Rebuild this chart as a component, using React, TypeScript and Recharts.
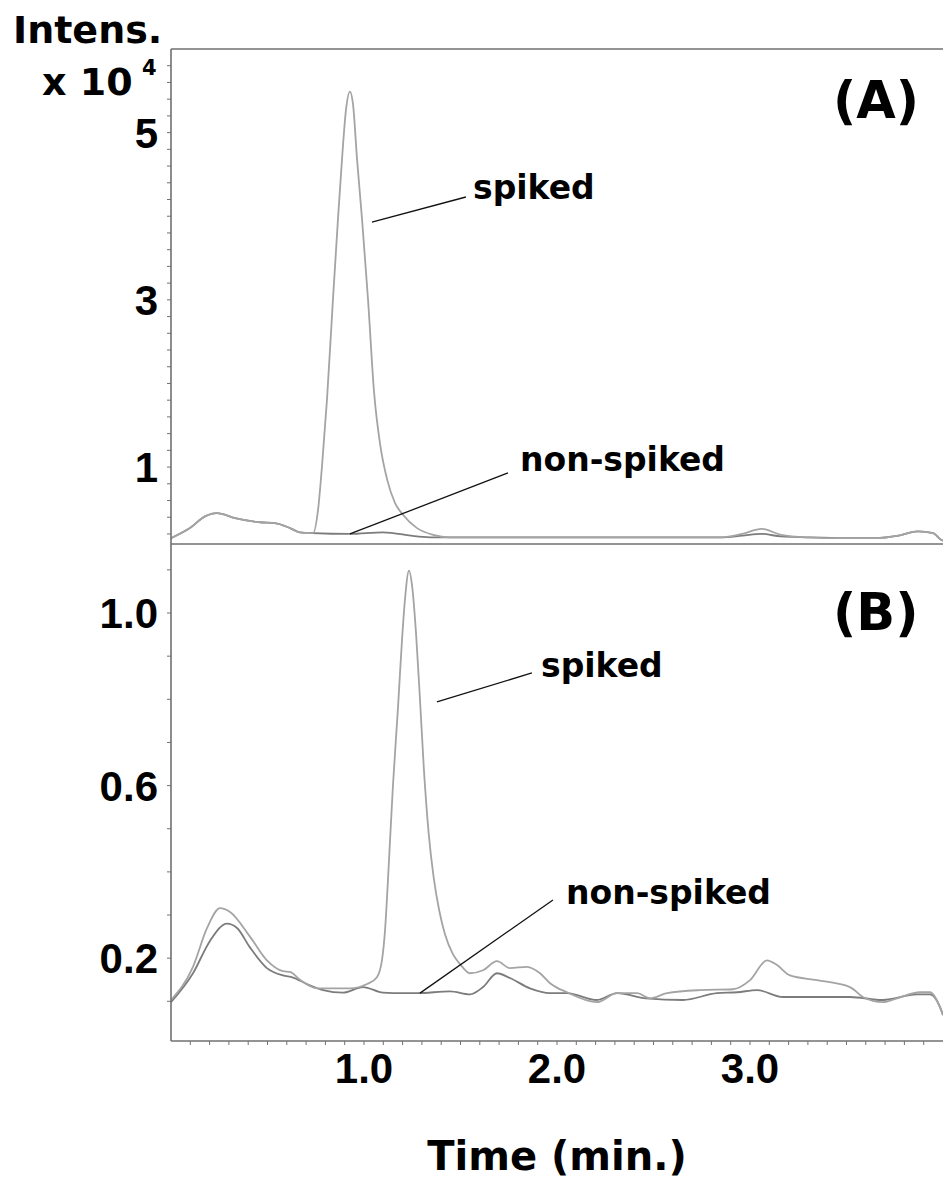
import React from 'react';
import { LineChart, Line, XAxis, YAxis, ReferenceLine } from 'recharts';

// axes
const TIME_DOMAIN: [number, number] = [0, 4];
const TIME_LABELS = [1, 2, 3];
const INTENS_A_DOMAIN: [number, number] = [0.08, 6.0];
const INTENS_A_LABELS = [1, 3, 5];
const INTENS_B_DOMAIN: [number, number] = [0.008, 1.16];
const INTENS_B_LABELS = [0.2, 0.6, 1.0];

// panel (A): [time (min), intensity x10^4]
const spikedA = [
  [0, 0.15], [0.098, 0.27], [0.176, 0.41], [0.238, 0.45], [0.332, 0.39], [0.461, 0.34],
  [0.539, 0.33], [0.617, 0.27], [0.668, 0.22], [0.736, 0.21], [0.762, 0.49], [0.782, 1.0],
  [0.808, 1.8], [0.839, 3.0], [0.865, 3.96], [0.886, 4.68], [0.907, 5.28], [0.927, 5.49],
  [0.943, 5.34], [0.964, 4.68], [0.99, 3.96], [1.021, 3.0], [1.052, 1.9], [1.085, 1.25],
  [1.12, 0.85], [1.161, 0.57], [1.202, 0.43], [1.275, 0.27], [1.358, 0.19], [1.446, 0.16],
  [1.8, 0.16], [2.2, 0.16], [2.6, 0.16], [2.85, 0.16], [2.96, 0.2], [3.06, 0.26], [3.16, 0.19],
  [3.29, 0.16], [3.5, 0.15], [3.65, 0.15], [3.77, 0.18], [3.87, 0.23], [3.95, 0.21],
  [3.99, 0.13], [4.0, 0.12],
];
const nonSpikedA = [
  [0, 0.15], [0.098, 0.27], [0.176, 0.41], [0.238, 0.45], [0.332, 0.39], [0.461, 0.34],
  [0.539, 0.33], [0.617, 0.27], [0.668, 0.22], [0.736, 0.21], [0.927, 0.2], [1.098, 0.22],
  [1.275, 0.17], [1.358, 0.16], [1.8, 0.16], [2.2, 0.16], [2.6, 0.16], [2.85, 0.16],
  [2.96, 0.18], [3.06, 0.2], [3.16, 0.17], [3.29, 0.16], [3.5, 0.15], [3.65, 0.15],
  [3.77, 0.18], [3.87, 0.23], [3.95, 0.21], [3.99, 0.13], [4.0, 0.12],
];

// panel (B)
const spikedB = [
  [0, 0.103], [0.114, 0.18], [0.187, 0.27], [0.254, 0.316], [0.306, 0.307], [0.409, 0.25],
  [0.497, 0.195], [0.58, 0.17], [0.617, 0.168], [0.668, 0.15], [0.756, 0.13], [0.839, 0.13],
  [0.927, 0.13], [1.016, 0.14], [1.067, 0.156], [1.093, 0.195], [1.109, 0.265], [1.124, 0.38],
  [1.135, 0.474], [1.15, 0.6], [1.176, 0.78], [1.197, 0.938], [1.212, 1.03], [1.233, 1.098],
  [1.25, 1.06], [1.27, 0.95], [1.29, 0.8], [1.31, 0.64], [1.335, 0.49], [1.36, 0.39],
  [1.39, 0.31], [1.42, 0.255], [1.46, 0.21], [1.5, 0.185], [1.549, 0.165], [1.617, 0.172],
  [1.689, 0.193], [1.756, 0.177], [1.845, 0.18], [1.912, 0.165], [1.964, 0.142], [2.052, 0.121],
  [2.207, 0.098], [2.311, 0.119], [2.415, 0.119], [2.482, 0.107], [2.57, 0.119], [2.741, 0.126],
  [2.912, 0.128], [3.0, 0.149], [3.088, 0.195], [3.14, 0.184], [3.207, 0.16], [3.347, 0.149],
  [3.518, 0.133], [3.585, 0.11], [3.689, 0.098], [3.762, 0.107], [3.881, 0.121], [3.933, 0.121],
  [3.984, 0.087], [4.0, 0.068],
];
const nonSpikedB = [
  [0, 0.098], [0.114, 0.165], [0.202, 0.24], [0.29, 0.28], [0.342, 0.27], [0.409, 0.225],
  [0.497, 0.177], [0.58, 0.16], [0.632, 0.155], [0.705, 0.14], [0.788, 0.126], [0.891, 0.12],
  [0.995, 0.133], [1.098, 0.12], [1.15, 0.119], [1.275, 0.119], [1.446, 0.123], [1.549, 0.116],
  [1.617, 0.133], [1.689, 0.165], [1.756, 0.154], [1.86, 0.13], [1.964, 0.119], [2.052, 0.119],
  [2.207, 0.103], [2.311, 0.119], [2.461, 0.107], [2.653, 0.103], [2.829, 0.119], [2.933, 0.121],
  [3.036, 0.126], [3.171, 0.11], [3.347, 0.11], [3.518, 0.11], [3.689, 0.103], [3.865, 0.116],
  [3.933, 0.116], [3.984, 0.087], [4.0, 0.068],
];

// leader lines for the "spiked" / "non-spiked" labels, [t, v] pairs
const leaderSpikedA = [[1.041, 3.93], [1.528, 4.23]];
const leaderNonSpikedA = [[0.927, 0.2], [1.746, 0.93]];
const leaderSpikedB = [[1.378, 0.794], [1.87, 0.861]];
const leaderNonSpikedB = [[1.29, 0.119], [1.979, 0.335]];

const toRows = (pts: number[][]) => pts.map(([t, v]) => ({ t, v }));
const toSeg = (pts: number[][]) => pts.map(([x, y]) => ({ x, y }));

const steps = (from: number, to: number, step: number) => {
  const out: number[] = [];
  for (let v = from; v <= to + 1e-9; v += step) out.push(Math.round(v * 100) / 100);
  return out;
};

const isMajor = (labels: number[], v: number) => labels.some((l) => Math.abs(l - v) < 1e-6);

const FRAME = '#707070';
const SPIKED = '#a4a4a4';
const NON_SPIKED = '#7c7c7c';
const NUM_FONT = { fill: '#000', fontSize: 42, fontWeight: 700, fontFamily: '"Liberation Sans", Arial, sans-serif' };
const TXT_FONT = '"DejaVu Sans", Verdana, sans-serif';

const W = 943;

export default function App() {
  return (
    <div style={{ position: 'absolute', left: 0, top: 0, width: W, height: 1186, background: '#fff', overflow: 'hidden' }}>
      {/* panel A */}
      <div style={{ position: 'absolute', left: 0, top: 0 }}>
        <LineChart width={W} height={560} margin={{ top: 49, right: 0, bottom: 0, left: 11 }}>
          <XAxis
            dataKey="t"
            type="number"
            domain={TIME_DOMAIN}
            allowDataOverflow
            height={16}
            tick={false}
            tickLine={false}
            axisLine={{ stroke: FRAME, strokeWidth: 1.6 }}
          />
          <YAxis
            type="number"
            domain={INTENS_A_DOMAIN}
            allowDataOverflow
            width={160}
            ticks={steps(0.2, 5.8, 0.2)}
            interval={0}
            tickSize={4}
            tickMargin={9}
            tick={NUM_FONT}
            tickFormatter={(v: number) => (isMajor(INTENS_A_LABELS, v) ? String(Math.round(v)) : '')}
            tickLine={{ stroke: FRAME }}
            axisLine={{ stroke: FRAME, strokeWidth: 1.6 }}
          />
          <ReferenceLine y={INTENS_A_DOMAIN[1]} stroke={FRAME} strokeWidth={1.6} />
          <Line data={toRows(nonSpikedA)} dataKey="v" type="monotone" stroke={NON_SPIKED} strokeWidth={1.8} dot={false} isAnimationActive={false} />
          <Line data={toRows(spikedA)} dataKey="v" type="monotone" stroke={SPIKED} strokeWidth={1.8} dot={false} isAnimationActive={false} />
          <ReferenceLine segment={toSeg(leaderSpikedA)} stroke="#111" strokeWidth={1.3} />
          <ReferenceLine segment={toSeg(leaderNonSpikedA)} stroke="#111" strokeWidth={1.3} />
        </LineChart>
      </div>

      {/* panel B */}
      <div style={{ position: 'absolute', left: 0, top: 534 }}>
        <LineChart width={W} height={652} margin={{ top: 10, right: 0, bottom: 0, left: 11 }}>
          <XAxis
            dataKey="t"
            type="number"
            domain={TIME_DOMAIN}
            allowDataOverflow
            height={145}
            ticks={steps(0.1, 3.9, 0.1)}
            interval={0}
            tickSize={4}
            tickMargin={8}
            tick={NUM_FONT}
            tickFormatter={(v: number) => (isMajor(TIME_LABELS, v) ? v.toFixed(1) : '')}
            tickLine={{ stroke: FRAME }}
            axisLine={{ stroke: FRAME, strokeWidth: 1.6 }}
          />
          <YAxis
            type="number"
            domain={INTENS_B_DOMAIN}
            allowDataOverflow
            width={160}
            ticks={steps(0.1, 1.1, 0.1)}
            interval={0}
            tickSize={4}
            tickMargin={9}
            tick={NUM_FONT}
            tickFormatter={(v: number) => (isMajor(INTENS_B_LABELS, v) ? v.toFixed(1) : '')}
            tickLine={{ stroke: FRAME }}
            axisLine={{ stroke: FRAME, strokeWidth: 1.6 }}
          />
          <Line data={toRows(nonSpikedB)} dataKey="v" type="monotone" stroke={NON_SPIKED} strokeWidth={1.8} dot={false} isAnimationActive={false} />
          <Line data={toRows(spikedB)} dataKey="v" type="monotone" stroke={SPIKED} strokeWidth={1.8} dot={false} isAnimationActive={false} />
          <ReferenceLine segment={toSeg(leaderSpikedB)} stroke="#111" strokeWidth={1.3} />
          <ReferenceLine segment={toSeg(leaderNonSpikedB)} stroke="#111" strokeWidth={1.3} />
        </LineChart>
      </div>

      {/* titles and annotations */}
      <svg width={W} height={1186} style={{ position: 'absolute', left: 0, top: 0, pointerEvents: 'none' }}>
        <g fontFamily={TXT_FONT} fontWeight={700} fill="#000">
          <text x={13} y={43} fontSize={38}>Intens.</text>
          <text x={42} y={95} fontSize={38}>x 10</text>
          <text x={142} y={75} fontSize={21}>4</text>
          <text x={833} y={118} fontSize={51}>(A)</text>
          <text x={833} y={630} fontSize={51}>(B)</text>
          <text x={473} y={199} fontSize={33}>spiked</text>
          <text x={520} y={471} fontSize={33}>non-spiked</text>
          <text x={541} y={677} fontSize={33}>spiked</text>
          <text x={566} y={904} fontSize={33}>non-spiked</text>
          <text x={557} y={1170} fontSize={40} textAnchor="middle">Time (min.)</text>
        </g>
      </svg>
    </div>
  );
}
